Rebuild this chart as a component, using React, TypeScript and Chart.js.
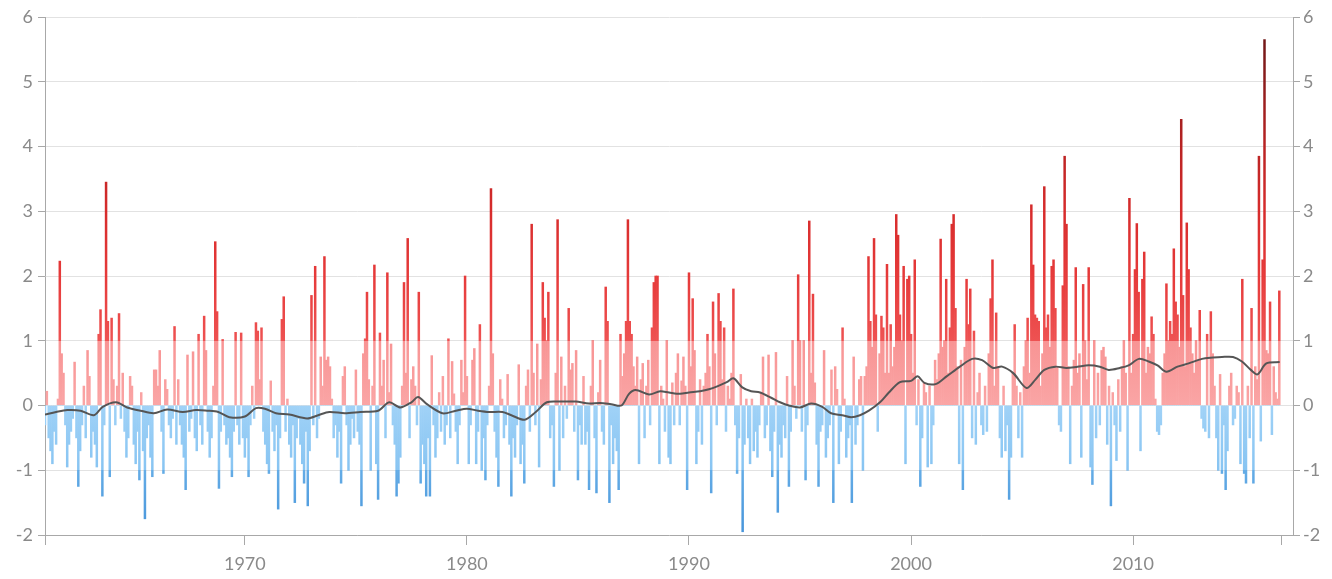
import React, { useEffect, useRef } from 'react';
import { Chart, registerables } from 'chart.js';

Chart.register(...registerables);

// Monthly anomalies, starting January 1961
const START_YEAR = 1961;

const anomalies1960s = [
  -0.3, 0.22, -0.5, -0.7, -0.9, -0.4, -0.6, 0.1, 2.23, 0.8, 0.5, -0.3,
  -0.95, -0.6, -0.4, -0.2, 0.67, -0.5, -1.25, -0.7, -0.3, 0.3, -0.5, 0.85,
  0.45, -0.8, -0.4, -0.6, -0.95, 1.1, 1.48, -1.4, -0.3, 3.45, 1.3, -1.1,
  1.35, 0.4, -0.3, 0.3, 1.42, -0.2, 0.5, -0.4, -0.8, -0.5, 0.45, 0.3,
  -0.6, -0.9, -0.4, -1.15, 0.2, -0.7, -1.75, -0.5, -0.3, -0.8, -1.1, 0.55,
  0.55, 0.3, 0.85, -0.4, -1.05, 0.4, 0.25, -0.3, -0.5, -0.2, 1.22, -0.6,
  0.4, -0.3, -0.6, -0.8, -1.3, 0.78, -0.4, -0.2, 0.83, -0.5, -0.7, 1.1,
  -0.3, -0.6, 1.38, 0.85, -0.4, -0.8, -0.5, 0.3, 2.53, 1.45, -1.28, -0.4,
  1.02, -0.3, -0.6, -0.5, -0.8, -1.1, -0.4, 1.13, -0.3, -0.6, 1.12, -0.5,
];

const anomalies1970s = [
  -0.8, -0.5, -1.1, -0.3, 0.3, -0.2, 1.28, 1.15, 0.4, 1.2, -0.4, -0.6,
  -0.9, -1.05, 0.38, -0.4, -0.7, -0.3, -1.6, -0.5, 1.33, 1.68, -0.4, 0.1,
  -0.6, -0.8, -0.3, -1.5, -0.5, -0.2, -0.6, -0.9, -1.2, -0.4, -1.55, -0.7,
  1.7, -0.3, 2.15, -0.5, -0.2, 0.75, 0.3, 2.3, 0.7, 0.75, 0.6, 0.1,
  -0.5, -0.3, -0.8, -0.4, -1.2, 0.45, 0.6, -0.3, -1.0, -0.6, -0.2, -0.5,
  0.55, -0.4, -0.6, -1.55, 0.8, 1.03, 1.75, 0.4, -1.0, 0.3, 2.17, -0.9,
  -1.45, 1.12, 0.3, 0.7, -0.5, 2.05, 0.2, 0.95, -0.3, -0.6, -1.4, -1.2,
  -0.8, 0.3, 1.9, 0.5, 2.58, -0.5, 0.4, 0.6, 0.3, -0.3, 1.75, -1.2,
  -0.6, -0.9, -1.4, -0.5, -1.4, 0.77, -0.3, -0.8, -0.5, 0.2, -0.4, 0.45,
  -0.6, -0.3, 1.03, -0.5, 0.68, 0.18, -0.4, -0.9, -0.3, 0.7, 0.2, 2.0,
];

const anomalies1980s = [
  0.45, -0.9, -0.3, 0.7, 0.88, -0.9, -0.4, 1.25, -1.0, -0.5, -1.15, -0.3,
  0.3, 3.35, 0.8, -0.4, -0.8, -1.25, 0.4, 0.1, -0.5, -0.3, 0.48, -0.6,
  -1.4, -0.5, -0.8, -0.3, 0.63, -0.9, -0.6, -1.2, 0.3, 0.55, -0.4, 2.8,
  0.5, -0.3, 0.95, -0.95, 0.4, 1.9, 1.35, 1.0, 1.75, -0.5, -0.3, -1.25,
  0.5, 2.87, -1.0, 0.75, -0.5, 0.3, -0.2, 1.5, 0.55, 0.65, -0.4, 0.85,
  -1.15, -0.3, -0.6, 0.45, -0.6, -0.4, -1.3, 0.3, 1.0, -0.5, -1.35, 0.2,
  0.7, -0.4, -0.6, 1.83, 1.3, -1.5, -0.3, -0.9, -0.5, -0.7, -1.3, 1.1,
  0.45, 0.8, 1.3, 2.87, 1.3, 1.1, 0.6, 0.3, 0.75, -0.9, 0.4, 0.65,
  -0.5, 0.3, 0.7, -0.3, 1.2, 1.9, 2.0, 2.0, -0.9, 0.3, 0.1, -0.4,
  1.0, -0.8, -0.9, 0.35, -0.3, 0.5, 0.8, -0.3, 0.38, 0.75, 0.3, -1.3,
];

const anomalies1990s = [
  2.05, 0.6, 1.65, 0.85, -0.9, -0.4, 0.4, -0.6, 0.3, 0.5, 1.1, 0.6,
  -1.35, 1.6, 0.8, -0.3, 1.73, 1.3, 0.4, 1.2, -0.4, 0.3, 0.1, 0.5,
  1.8, -0.3, -1.05, -0.5, 0.48, -1.95, -0.6, 0.1, -0.5, -0.9, 0.1, -0.7,
  -0.4, -0.8, -0.3, 0.2, 0.75, -0.5, -0.3, 0.78, -0.7, -1.1, -0.4, 0.82,
  -1.65, -0.6, -0.8, -0.3, -0.5, 0.45, -1.25, -0.4, 1.0, 0.3, -0.2, 2.02,
  1.0, -0.4, 1.0, -1.15, -0.3, 2.85, 0.5, 1.72, 0.35, -0.6, -1.25, -0.4,
  -0.3, 0.85, -0.8, -0.5, -0.3, 0.55, -1.5, 0.6, 0.25, -0.9, -0.4, 1.2,
  0.1, -0.8, -0.5, -0.3, -1.5, 0.75, -0.6, -0.3, 0.4, 0.45, -1.0, 0.45,
  0.6, 2.3, 1.3, 0.9, 2.58, 1.4, -0.4, 0.8, 1.38, 1.2, 0.5, 2.18,
  0.5, 1.25, 0.6, 0.9, 2.95, 2.63, 1.4, 1.0, 2.15, -0.9, 1.95, 2.0,
];

const anomalies2000s = [
  1.1, 0.5, 2.25, -0.3, 0.4, -1.25, -0.5, 0.35, 0.2, -0.95, 0.3, -0.9,
  -0.3, 0.7, 0.4, 0.8, 2.57, 0.9, 1.0, 1.95, 0.5, 1.2, 2.8, 2.95,
  1.5, 0.6, -0.9, 0.7, -1.3, 0.9, 1.95, 1.25, 1.8, -0.5, 1.15, -0.6,
  0.2, 0.5, -0.3, -0.45, 0.3, -0.4, 0.8, 1.65, 2.25, 0.3, 1.43, 0.6,
  -0.5, -0.8, 0.3, -0.7, -0.3, -1.45, -0.8, 0.5, 1.25, 0.3, -0.5, 0.2,
  -0.8, 0.6, 1.0, 1.35, 0.5, 3.1, 2.17, 1.4, 1.35, 1.3, 0.3, 0.8,
  3.38, 1.2, 1.4, 0.9, 2.15, 2.25, 1.5, 0.6, -0.3, -0.4, 1.85, 3.85,
  2.8, 0.6, -0.9, 0.3, 0.7, 2.13, 0.5, 0.8, -0.8, 1.87, 1.0, 0.4,
  2.13, -0.95, -1.22, 1.0, -0.5, 0.5, -0.3, 0.85, 0.9, 0.75, -0.6, 0.3,
  -1.55, 0.2, -0.3, -0.85, 0.4, -0.4, 0.6, 1.0, 0.5, -1.0, 3.2, 0.5,
];

const anomalies2010s = [
  1.1, 2.1, 2.81, 1.75, -0.7, 1.95, 2.37, 0.5, 0.9, 0.8, 1.37, 1.1,
  0.1, -0.4, -0.45, -0.3, 0.5, 0.8, 1.88, 1.0, 1.3, 1.1, 2.42, 1.6,
  1.4, 0.9, 4.42, 1.7, 0.6, 2.82, 2.1, 1.2, 0.8, 0.5, 1.0, 0.7,
  1.47, -0.2, -0.35, -0.4, 1.1, -0.5, 1.45, 0.8, 0.3, -0.5, -1.0, 0.48,
  -1.05, -0.3, -1.3, -0.7, 0.3, 0.5, -0.3, -0.2, 0.3, 0.2, -0.9, 1.95,
  -1.05, -1.2, 0.3, -0.5, 1.5, -1.2, 0.6, 0.4, 3.85, -0.55, 2.25, 5.65,
  0.85, 0.8, 1.6, -0.45, 0.6, 0.2, 0.1, 1.77,
];

// Smoothed (running mean) line
const trendYears = [
  1961.0, 1961.5, 1962.0, 1962.6, 1963.2, 1963.6, 1964.2, 1964.7, 1965.3, 1965.9,
  1966.5, 1967.2, 1967.8, 1968.3, 1968.8, 1969.3, 1970.0, 1970.5, 1970.9, 1971.4,
  1972.0, 1972.8, 1973.3, 1973.8, 1974.5, 1975.2, 1976.0, 1976.5, 1977.0, 1977.5,
  1977.8, 1978.2, 1978.9, 1979.5, 1980.0, 1980.5, 1981.0, 1981.6, 1982.0, 1982.6,
  1983.1, 1983.6, 1984.2, 1984.9, 1985.5, 1986.0, 1986.5, 1986.96, 1987.3, 1987.6,
  1988.2, 1988.7, 1989.1, 1989.6, 1990.0, 1990.5, 1990.9, 1991.3, 1991.7, 1992.0,
  1992.4, 1992.8, 1993.2, 1993.7, 1994.1, 1994.5, 1995.0, 1995.5, 1996.0, 1996.4,
  1996.9, 1997.3, 1997.7, 1998.1, 1998.6, 1999.0, 1999.5, 2000.0, 2000.3, 2000.6,
  2001.1, 2001.6, 2002.2, 2002.75, 2003.2, 2003.7, 2004.1, 2004.6, 2005.2, 2005.6,
  2006.0, 2006.5, 2007.0, 2007.5, 2008.0, 2008.5, 2008.9, 2009.4, 2009.8, 2010.26,
  2010.7, 2011.1, 2011.5, 2012.0, 2012.5, 2013.1, 2013.6, 2014.0, 2014.5, 2014.9,
  2015.3, 2015.6, 2016.0, 2016.6,
];
const trendValues = [
  -0.14, -0.1, -0.07, -0.08, -0.15, -0.02, 0.05, -0.03, -0.08, -0.12,
  -0.06, -0.1, -0.07, -0.08, -0.1, -0.18, -0.17, -0.04, -0.05, -0.12,
  -0.14, -0.2, -0.15, -0.1, -0.12, -0.1, -0.08, 0.05, -0.03, 0.05,
  0.13, 0.02, -0.12, -0.08, -0.05, -0.08, -0.1, -0.1, -0.15, -0.22,
  -0.1, 0.05, 0.06, 0.06, 0.03, 0.04, 0.02, 0.0, 0.18, 0.24,
  0.17, 0.22, 0.2, 0.18, 0.2, 0.22, 0.25, 0.3, 0.36, 0.42,
  0.28, 0.22, 0.2, 0.12, 0.05, 0.0, -0.03, 0.03, -0.02, -0.12,
  -0.15, -0.18, -0.15, -0.08, 0.05, 0.2, 0.36, 0.38, 0.45, 0.35,
  0.33, 0.45, 0.6, 0.72, 0.7, 0.58, 0.6, 0.5, 0.27, 0.4,
  0.55, 0.6, 0.58, 0.6, 0.62, 0.6, 0.55, 0.58, 0.62, 0.72,
  0.68, 0.62, 0.52, 0.6, 0.65, 0.72, 0.74, 0.75, 0.75, 0.68,
  0.55, 0.48, 0.65, 0.67,
];

const decadeTicks = [1970, 1980, 1990, 2000, 2010];
const X_MIN = 1961;
const X_END_TICK = 2016.67;
const X_MAX = 2017.2;
const Y_MIN = -2;
const Y_MAX = 6;

const AXIS_GRAY = '#a8a8a8';
const GRID_GRAY = '#e2e2e2';
const LABEL_GRAY = '#8a8a8a';
const FONT = { family: 'Lato', size: 18 };

export default function App() {
  const canvasRef = useRef<HTMLCanvasElement>(null);

  useEffect(() => {
    const canvas = canvasRef.current;
    if (!canvas) return;

    const monthly = [
      ...anomalies1960s,
      ...anomalies1970s,
      ...anomalies1980s,
      ...anomalies1990s,
      ...anomalies2000s,
      ...anomalies2010s,
    ];
    const barData = monthly.map((v, i) => ({ x: START_YEAR + i / 12, y: v }));
    const trendData = trendYears.map((x, i) => ({ x, y: trendValues[i] }));

    let cache: { key: string; grad: CanvasGradient } | null = null;
    const barColor = (c: any) => {
      const chart = c.chart;
      if (!chart.chartArea) return 'rgb(249,150,150)';
      const ys = chart.scales.y;
      const top = ys.getPixelForValue(Y_MAX);
      const bottom = ys.getPixelForValue(Y_MIN);
      const key = top + '_' + bottom;
      if (cache && cache.key === key) return cache.grad;
      const g = chart.ctx.createLinearGradient(0, top, 0, bottom);
      const stop = (v: number, col: string) => g.addColorStop((Y_MAX - v) / (Y_MAX - Y_MIN), col);
      stop(6, 'rgb(100,22,22)');
      stop(5, 'rgb(140,28,28)');
      stop(4, 'rgb(185,35,35)');
      stop(3, 'rgb(215,44,44)');
      stop(2, 'rgb(230,58,58)');
      stop(1, 'rgb(238,82,82)');
      stop(1, 'rgb(248,148,148)');
      stop(0, 'rgb(250,165,165)');
      stop(0, 'rgb(160,210,247)');
      stop(-1, 'rgb(135,196,242)');
      stop(-1, 'rgb(100,172,230)');
      stop(-2, 'rgb(70,148,218)');
      cache = { key, grad: g };
      return g;
    };

    const chart = new Chart(canvas, {
      type: 'bar',
      data: {
        datasets: [
          {
            type: 'line',
            data: trendData,
            borderColor: '#555555',
            borderWidth: 2,
            pointRadius: 0,
            tension: 0.3,
            order: 0,
          } as any,
          {
            type: 'bar',
            data: barData,
            backgroundColor: barColor,
            borderWidth: 0,
            barPercentage: 1,
            categoryPercentage: 1,
            order: 1,
          } as any,
        ],
      },
      options: {
        animation: false,
        responsive: true,
        maintainAspectRatio: false,
        layout: { padding: { top: 17, left: 0, right: 0, bottom: 0 } },
        plugins: {
          legend: { display: false },
          tooltip: { enabled: false },
        },
        scales: {
          x: {
            type: 'linear',
            min: X_MIN,
            max: X_MAX,
            offset: false,
            afterBuildTicks: (s: any) => {
              s.ticks = [X_MIN, ...decadeTicks, X_END_TICK].map((v) => ({ value: v }));
            },
            afterFit: (s: any) => {
              s.height = 44;
            },
            ticks: {
              autoSkip: false,
              maxRotation: 0,
              color: LABEL_GRAY,
              font: FONT,
              padding: 8,
              callback: (v: any) => (decadeTicks.includes(Number(v)) ? String(v) : ''),
            },
            grid: {
              offset: false,
              drawOnChartArea: false,
              drawTicks: true,
              tickLength: 10,
              color: AXIS_GRAY,
              tickColor: AXIS_GRAY,
            },
            border: { display: true, color: AXIS_GRAY },
          } as any,
          y: {
            position: 'left',
            min: Y_MIN,
            max: Y_MAX,
            afterFit: (s: any) => {
              s.width = 45;
            },
            ticks: { stepSize: 1, color: LABEL_GRAY, font: FONT, padding: 5 },
            grid: { color: GRID_GRAY, tickColor: AXIS_GRAY, tickLength: 7 },
            border: { display: true, color: AXIS_GRAY },
          } as any,
          y2: {
            position: 'right',
            min: Y_MIN,
            max: Y_MAX,
            afterFit: (s: any) => {
              s.width = 39;
            },
            ticks: { stepSize: 1, color: LABEL_GRAY, font: FONT, padding: 3 },
            grid: { drawOnChartArea: false, color: AXIS_GRAY, tickColor: AXIS_GRAY, tickLength: 7 },
            border: { display: true, color: AXIS_GRAY },
          } as any,
        },
      },
    });

    return () => {
      chart.destroy();
    };
  }, []);

  return (
    <div style={{ position: 'absolute', left: 0, top: 0, width: 1332, height: 579 }}>
      <canvas ref={canvasRef} />
    </div>
  );
}
